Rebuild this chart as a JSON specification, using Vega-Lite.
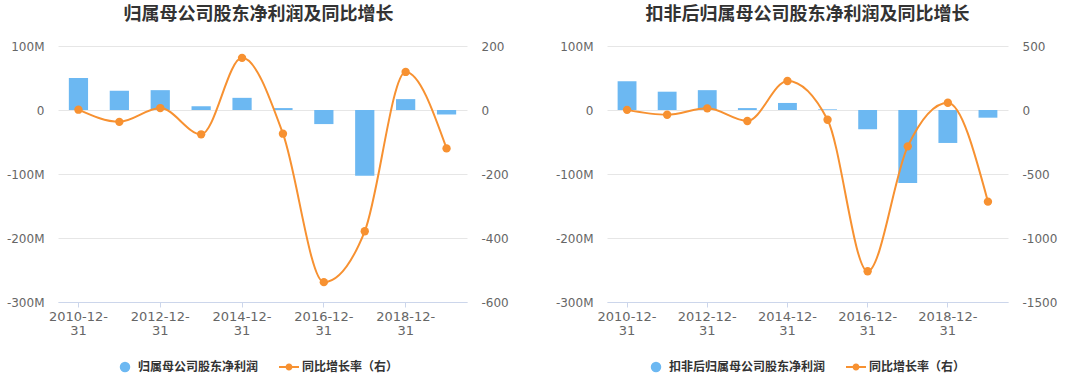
{
  "$schema": "https://vega.github.io/schema/vega-lite/v6.json",
  "autosize": {"type": "pad"},
  "padding": {"left": 3, "top": 6, "right": 5, "bottom": 5},
  "bounds": "flush",
  "spacing": 140,
  "datasets": {
    "a": [
      {"date": "2010-12-31", "profit": 50000000, "growth": 1},
      {"date": "2011-12-31", "profit": 30000000, "growth": -37},
      {"date": "2012-12-31", "profit": 31000000, "growth": 6},
      {"date": "2013-12-31", "profit": 6000000, "growth": -76},
      {"date": "2014-12-31", "profit": 19000000, "growth": 163},
      {"date": "2015-12-31", "profit": 3000000, "growth": -74},
      {"date": "2016-12-31", "profit": -22000000, "growth": -538},
      {"date": "2017-12-31", "profit": -102600000, "growth": -379},
      {"date": "2018-12-31", "profit": 17000000, "growth": 119},
      {"date": "2019-12-31", "profit": -7000000, "growth": -120}
    ],
    "b": [
      {"date": "2010-12-31", "profit": 45000000, "growth": 1},
      {"date": "2011-12-31", "profit": 28600000, "growth": -37},
      {"date": "2012-12-31", "profit": 31000000, "growth": 13},
      {"date": "2013-12-31", "profit": 3000000, "growth": -86},
      {"date": "2014-12-31", "profit": 11000000, "growth": 227},
      {"date": "2015-12-31", "profit": 1000000, "growth": -76},
      {"date": "2016-12-31", "profit": -30000000, "growth": -1260},
      {"date": "2017-12-31", "profit": -114000000, "growth": -284},
      {"date": "2018-12-31", "profit": -51500000, "growth": 57},
      {"date": "2019-12-31", "profit": -12000000, "growth": -716}
    ]
  },
  "hconcat": [
    {
      "title": {"text": "归属母公司股东净利润及同比增长", "dx": -4},
      "width": 409,
      "height": 256,
      "data": {"name": "a"},
      "encoding": {
        "x": {
          "field": "date", "type": "nominal", "sort": null,
          "scale": {"paddingInner": 0.53, "paddingOuter": 0.265},
          "axis": {"values": ["2010-12-31", "2012-12-31", "2014-12-31", "2016-12-31", "2018-12-31"]}
        }
      },
      "layer": [
        {
          "mark": {"type": "bar"},
          "encoding": {
            "y": {
              "field": "profit", "type": "quantitative",
              "scale": {"domain": [-300000000, 100000000], "nice": false, "zero": false},
              "axis": {"orient": "left", "values": [-300000000, -200000000, -100000000, 0, 100000000], "labelExpr": "datum.value == 0 ? '0' : (datum.value / 1000000) + 'M'", "grid": true, "minExtent": 55, "maxExtent": 55}
            },
            "color": {
              "datum": "归属母公司股东净利润", "type": "nominal",
              "scale": {"domain": ["归属母公司股东净利润", "同比增长率（右）"], "range": ["#6cb8f2", "#f79131"]},
              "legend": {
                "orient": "none", "legendX": 61, "legendY": 315, "direction": "horizontal", "title": null,
                "symbolSize": 400, "labelOffset": 7, "columnPadding": 20,
                "encode": {"symbols": {"update": {
                  "shape": {"signal": "datum.value === '同比增长率（右）' ? 'M-1,-0.1L1,-0.1L1,0.1L-1,0.1Z M0.35,0A0.35,0.35,0,1,1,-0.35,0A0.35,0.35,0,1,1,0.35,0Z' : 'circle'"},
                  "size": {"signal": "datum.value === '同比增长率（右）' ? 400 : 110"},
                  "fill": {"signal": "datum.value === '同比增长率（右）' ? '#f79131' : '#6cb8f2'"},
                  "strokeWidth": {"value": 0},
                  "opacity": {"value": 1}
                }}}
              }
            }
          }
        },
        {
          "mark": {"type": "line", "interpolate": "monotone", "strokeWidth": 2, "point": {"filled": true, "size": 70, "opacity": 1}},
          "encoding": {
            "y": {
              "field": "growth", "type": "quantitative",
              "scale": {"domain": [-600, 200], "nice": false, "zero": false},
              "axis": {"orient": "right", "values": [-600, -400, -200, 0, 200], "labelExpr": "'' + datum.value", "grid": false, "labelAlign": "left"}
            },
            "color": {"datum": "同比增长率（右）", "type": "nominal"}
          }
        }
      ],
      "resolve": {"scale": {"y": "independent"}}
    },
    {
      "title": {"text": "扣非后归属母公司股东净利润及同比增长"},
      "width": 401,
      "height": 256,
      "data": {"name": "b"},
      "encoding": {
        "x": {
          "field": "date", "type": "nominal", "sort": null,
          "scale": {"paddingInner": 0.53, "paddingOuter": 0.265},
          "axis": {"values": ["2010-12-31", "2012-12-31", "2014-12-31", "2016-12-31", "2018-12-31"]}
        }
      },
      "layer": [
        {
          "mark": {"type": "bar"},
          "encoding": {
            "y": {
              "field": "profit", "type": "quantitative",
              "scale": {"domain": [-300000000, 100000000], "nice": false, "zero": false},
              "axis": {"orient": "left", "values": [-300000000, -200000000, -100000000, 0, 100000000], "labelExpr": "datum.value == 0 ? '0' : (datum.value / 1000000) + 'M'", "grid": true}
            },
            "color": {
              "datum": "扣非后归属母公司股东净利润", "type": "nominal",
              "scale": {"domain": ["扣非后归属母公司股东净利润", "同比增长率（右）"], "range": ["#6cb8f2", "#f79131"]},
              "legend": {
                "orient": "none", "legendX": 43, "legendY": 315, "direction": "horizontal", "title": null,
                "symbolSize": 400, "labelOffset": 7, "columnPadding": 20,
                "encode": {"symbols": {"update": {
                  "shape": {"signal": "datum.value === '同比增长率（右）' ? 'M-1,-0.1L1,-0.1L1,0.1L-1,0.1Z M0.35,0A0.35,0.35,0,1,1,-0.35,0A0.35,0.35,0,1,1,0.35,0Z' : 'circle'"},
                  "size": {"signal": "datum.value === '同比增长率（右）' ? 400 : 110"},
                  "fill": {"signal": "datum.value === '同比增长率（右）' ? '#f79131' : '#6cb8f2'"},
                  "strokeWidth": {"value": 0},
                  "opacity": {"value": 1}
                }}}
              }
            }
          }
        },
        {
          "mark": {"type": "line", "interpolate": "monotone", "strokeWidth": 2, "point": {"filled": true, "size": 70, "opacity": 1}},
          "encoding": {
            "y": {
              "field": "growth", "type": "quantitative",
              "scale": {"domain": [-1500, 500], "nice": false, "zero": false},
              "axis": {"orient": "right", "values": [-1500, -1000, -500, 0, 500], "labelExpr": "'' + datum.value", "grid": false, "labelAlign": "left"}
            },
            "color": {"datum": "同比增长率（右）", "type": "nominal"}
          }
        }
      ],
      "resolve": {"scale": {"y": "independent"}}
    }
  ],
  "resolve": {"scale": {"color": "independent"}, "legend": {"color": "independent"}},
  "config": {
    "font": "Noto Sans CJK SC",
    "view": {"stroke": null},
    "title": {"fontSize": 18, "fontWeight": "bold", "color": "#333333", "offset": 16, "anchor": "middle", "font": "Noto Sans CJK SC"},
    "axis": {"title": null, "labelFont": "DejaVu Sans", "labelFontSize": 12, "labelColor": "#666666", "gridColor": "#e6e6e6", "gridWidth": 1},
    "axisY": {"domain": false, "ticks": false, "labelPadding": 14},
    "axisX": {"labelAngle": 0, "labelFontSize": 13, "labelExpr": "[slice(datum.value, 0, 8), slice(datum.value, 8)]", "labelLineHeight": 14, "labelPadding": 3, "tickSize": 5, "domainColor": "#ccd6eb", "tickColor": "#ccd6eb", "grid": false, "labelBaseline": "top"},
    "legend": {"labelFont": "Noto Sans CJK SC", "labelFontSize": 12, "labelColor": "#333333", "labelFontWeight": "bold", "padding": 0}
  }
}
